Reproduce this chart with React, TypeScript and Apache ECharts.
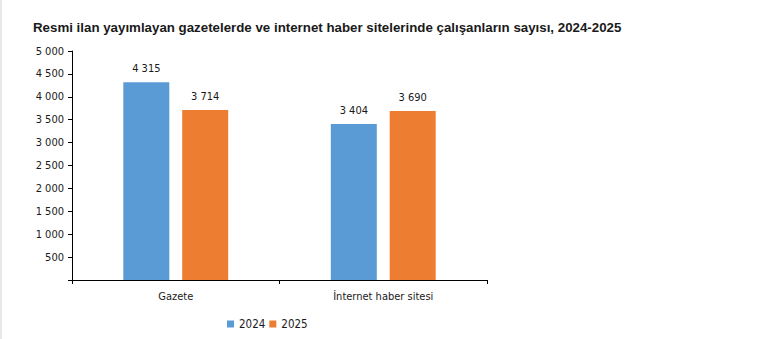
import React, { useEffect, useRef } from "react";
import * as echarts from "echarts";

const categories = ["Gazete", "İnternet haber sitesi"];
const seriesNames = ["2024", "2025"];
const values2024 = [4315, 3404];
const values2025 = [3714, 3690];
const colors = ["#5B9BD5", "#ED7D31"];

const fmt = (v: number) => {
  const s = String(Math.round(v));
  return s.replace(/\B(?=(\d{3})+(?!\d))/g, " ");
};

export default function App() {
  const ref = useRef<HTMLDivElement>(null);
  useEffect(() => {
    if (!ref.current) return;
    const chart = echarts.init(ref.current, null, { renderer: "svg" });
    const labelFont = "Tahoma, 'DejaVu Sans Condensed', 'Liberation Sans', Arial, sans-serif";
    chart.setOption({
      animation: false,
      backgroundColor: "#ffffff",
      title: {
        text: "Resmi ilan yayımlayan gazetelerde ve internet haber sitelerinde çalışanların sayısı, 2024-2025",
        left: 26,
        top: 16,
        textStyle: {
          fontFamily: "'Liberation Sans', Arial, sans-serif",
          fontSize: 13.3,
          fontWeight: "bold",
          color: "#1a1a1a",
        },
      },
      legend: {
        data: seriesNames,
        left: 220,
        top: 313,
        itemWidth: 7,
        itemHeight: 7,
        itemGap: 4,
        icon: "rect",
        textStyle: { fontFamily: labelFont, fontSize: 11.5, color: "#1a1a1a" },
      },
      grid: { left: 70, right: 297, top: 51, bottom: 59, containLabel: false },
      xAxis: {
        type: "category",
        data: categories,
        axisLine: { show: true, lineStyle: { color: "#000", width: 1 } },
        axisTick: { show: true, length: 4, alignWithLabel: false, lineStyle: { color: "#000" } },
        axisLabel: { fontFamily: labelFont, fontSize: 11, color: "#1a1a1a", margin: 11 },
      },
      yAxis: {
        type: "value",
        min: 0,
        max: 5000,
        interval: 500,
        axisLine: { show: true, lineStyle: { color: "#000", width: 1 } },
        axisTick: { show: true, length: 4, lineStyle: { color: "#000" } },
        splitLine: { show: false },
        axisLabel: {
          fontFamily: labelFont,
          fontSize: 11,
          color: "#1a1a1a",
          margin: 8,
          formatter: (v: number) => (v === 0 ? "" : fmt(v)),
        },
      },
      series: [
        {
          name: seriesNames[0],
          type: "bar",
          data: values2024,
          barWidth: 46,
          barGap: "28%",
          itemStyle: { color: colors[0] },
          label: {
            show: true,
            position: "top",
            distance: 8,
            fontFamily: labelFont,
            fontSize: 11,
            color: "#1a1a1a",
            formatter: (p: any) => fmt(p.value),
          },
        },
        {
          name: seriesNames[1],
          type: "bar",
          data: values2025,
          barWidth: 46,
          barGap: "28%",
          itemStyle: { color: colors[1] },
          label: {
            show: true,
            position: "top",
            distance: 8,
            fontFamily: labelFont,
            fontSize: 11,
            color: "#1a1a1a",
            formatter: (p: any) => fmt(p.value),
          },
        },
      ],
    });
    return () => chart.dispose();
  }, []);
  return (
    <div
      style={{
        position: "fixed",
        left: 0,
        top: 0,
        width: 784,
        height: 339,
        background: "#fff",
        boxSizing: "border-box",
        borderLeft: "2px solid #e8e8e8",
      }}
    >
      <div ref={ref} style={{ width: 782, height: 339 }} />
    </div>
  );
}
